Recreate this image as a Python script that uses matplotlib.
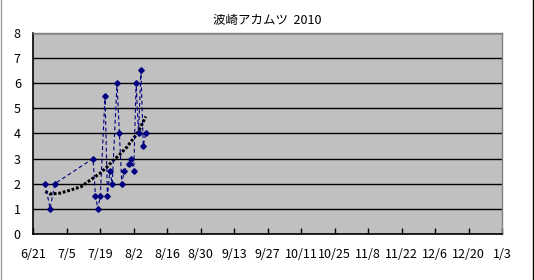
import matplotlib
matplotlib.use("Agg")
import matplotlib.pyplot as plt
from matplotlib.lines import Line2D
import pandas as pd

plt.rcParams["font.family"] = ["Noto Sans CJK JP", "DejaVu Sans"]

TITLE = "波崎アカムツ  2010"

# 釣果データ (日付, 値)
catch_dates = [
    "2010-06-26", "2010-06-28", "2010-06-30",
    "2010-07-16", "2010-07-17", "2010-07-18", "2010-07-19",
    "2010-07-21", "2010-07-22", "2010-07-23", "2010-07-24",
    "2010-07-26", "2010-07-27", "2010-07-28", "2010-07-29",
    "2010-07-31", "2010-08-01", "2010-08-02", "2010-08-03",
    "2010-08-04", "2010-08-05", "2010-08-06", "2010-08-07",
]
catch_values = [
    2, 1, 2,
    3, 1.5, 1, 1.5,
    5.5, 1.5, 2.5, 2,
    6, 4, 2, 2.5,
    2.8, 3, 2.5, 6,
    4, 6.5, 3.5, 4,
]

# 近似曲線
trend_dates = [
    "2010-06-26", "2010-06-28", "2010-07-02", "2010-07-06", "2010-07-11",
    "2010-07-13", "2010-07-16", "2010-07-19", "2010-07-22", "2010-07-24",
    "2010-07-27", "2010-07-30", "2010-08-02", "2010-08-04", "2010-08-05",
    "2010-08-07",
]
trend_values = [
    1.69, 1.59, 1.62, 1.73, 1.88,
    2.02, 2.22, 2.42, 2.68, 2.88,
    3.15, 3.44, 3.81, 4.08, 4.27,
    4.67,
]

x_start, x_end = "2010-06-21", "2011-01-03"
y_ticks = list(range(0, 9))

W, H = 534, 280
fig = plt.figure(figsize=(W / 100, H / 100), dpi=100)
fig.patch.set_facecolor("white")
ax = fig.add_axes([33.3 / W, (H - 234) / H, (502 - 33.3) / W, (234 - 32.7) / H])
ax.set_facecolor("#C0C0C0")

cd = pd.to_datetime(catch_dates)
td = pd.to_datetime(trend_dates)

ax.plot(td, trend_values, color="black", lw=2.2, linestyle=(0, (0.9, 0.6)),
        dash_capstyle="butt", zorder=3)
ax.plot(cd, catch_values, color="#000080", lw=0.8, linestyle=(0, (3.5, 2.5)),
        marker="D", markersize=2.8, markerfacecolor="#000080",
        markeredgecolor="#000080", zorder=4)

ax.set_xlim(pd.Timestamp(x_start), pd.Timestamp(x_end))
ax.set_ylim(0, 8)
ax.set_yticks(y_ticks)
ticks = pd.date_range(x_start, x_end, freq="14D")
ax.set_xticks(ticks)
ax.set_xticklabels([f"{d.month}/{d.day}" for d in ticks])

ax.grid(axis="y", color="black", lw=1)
ax.set_axisbelow(True)
for side in ("top", "right"):
    ax.spines[side].set_color("#808080")
    ax.spines[side].set_linewidth(1)
for side in ("left", "bottom"):
    ax.spines[side].set_color("black")
    ax.spines[side].set_linewidth(1.2)

ax.tick_params(axis="x", direction="in", length=4, width=1, pad=10,
               labelsize=9, colors="black")
ax.tick_params(axis="y", length=0, pad=9, labelsize=9)

fig.text(267.6 / W, 1 - 20 / H, TITLE, ha="center", va="center", fontsize=9)

# グラフエリアの枠線
fig.add_artist(Line2D([0.5 / W, 0.5 / W], [0, 1], color="#A0A0A0", lw=1))
fig.add_artist(Line2D([533.3 / W, 533.3 / W], [0, 1], color="black", lw=1))

fig.savefig("out.png", dpi=100)
